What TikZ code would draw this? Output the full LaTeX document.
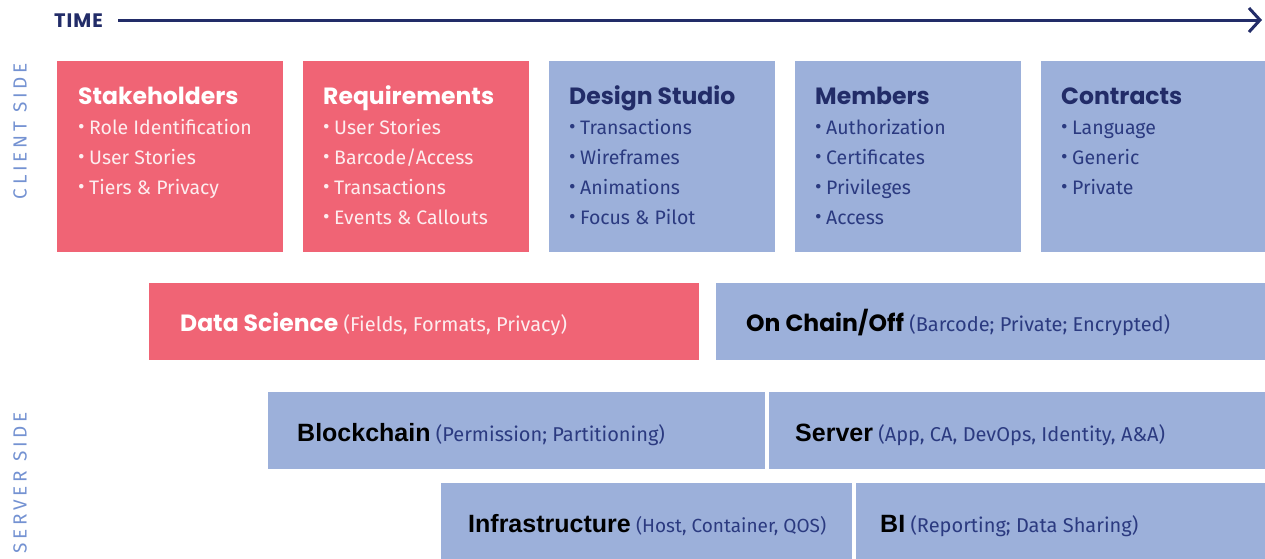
\documentclass[tikz,border=0pt]{standalone}
\usepackage{fontspec}
\setmainfont{Fira Sans}
\newfontfamily\geofont{Poppins}
\newfontfamily\grofont{Liberation Sans}
\newfontfamily\sidefont[LetterSpace=20]{Fira Sans}
\newfontfamily\timefont[LetterSpace=5]{Poppins}
\usetikzlibrary{arrows.meta}
\definecolor{pinkbox}{HTML}{F06475}
\definecolor{bluebox}{HTML}{9CB0DA}
\definecolor{navy}{HTML}{222C68}
\definecolor{navytext}{HTML}{2B3A80}
\definecolor{sideblue}{HTML}{7492D2}
\definecolor{pinktext}{HTML}{FDEDEF}
\newcommand\bul{\makebox[11pt][l]{\raisebox{0.5pt}{\fontsize{20pt}{20pt}\selectfont\textbullet}}}
\begin{document}
\begin{tikzpicture}[x=1pt,y=-1pt,
  box/.style={anchor=north west, inner sep=0pt, outer sep=0pt, draw=none},
  pbox/.style={box, fill=pinkbox},
  bbox/.style={box, fill=bluebox},
  ttl/.style={anchor=base west, inner sep=0pt, font={\geofont\bfseries\fontsize{23.5pt}{23.5pt}\selectfont}},
  itm/.style={anchor=base west, inner sep=0pt, font={\fontsize{19.5pt}{19.5pt}\selectfont}},
  rowtxt/.style={anchor=base west, inner sep=0pt, font={\fontsize{20pt}{20pt}\selectfont}},
  side/.style={rotate=90, inner sep=0pt, text=sideblue, font={\sidefont\fontsize{19pt}{19pt}\selectfont}}
]
\useasboundingbox (0,0) rectangle (1265,558);

% time axis
\node[anchor=base west, inner sep=0pt, text=navy, font={\timefont\bfseries\fontsize{19.5pt}{19.5pt}\selectfont}] (time) at (54,27) {TIME};
\coordinate (timeE) at (1262,20);
\coordinate (timeS) at (118,20);
\draw[navy, line width=3pt, -{Straight Barb[length=11pt, width=24pt, line width=3pt]}] (timeS) -- (timeE);

% side labels
\node[side] (client) at (20,131) {CLIENT SIDE};
\node[side] (server) at (20,483) {SERVER SIDE};

% top row
\node[pbox, minimum width=226pt, minimum height=191pt] (stake) at (57,61) {};
\node[ttl, text=white] (stakeT) at ([xshift=21pt,yshift=-43pt]stake.north west) {Stakeholders};
\node[itm, text=pinktext] (stake1) at ([yshift=-30pt]stakeT.base west) {\bul Role Identification};
\node[itm, text=pinktext] (stake2) at ([yshift=-30pt]stake1.base west) {\bul User Stories};
\node[itm, text=pinktext] (stake3) at ([yshift=-30pt]stake2.base west) {\bul Tiers \& Privacy};

\node[pbox, minimum width=226pt, minimum height=191pt] (req) at (303,61) {};
\node[ttl, text=white] (reqT) at ([xshift=20pt,yshift=-43pt]req.north west) {Requirements};
\node[itm, text=pinktext] (req1) at ([yshift=-30pt]reqT.base west) {\bul User Stories};
\node[itm, text=pinktext] (req2) at ([yshift=-30pt]req1.base west) {\bul Barcode/Access};
\node[itm, text=pinktext] (req3) at ([yshift=-30pt]req2.base west) {\bul Transactions};
\node[itm, text=pinktext] (req4) at ([yshift=-30pt]req3.base west) {\bul Events \& Callouts};

\node[bbox, minimum width=226pt, minimum height=191pt] (des) at (549,61) {};
\node[ttl, text=navy] (desT) at ([xshift=20pt,yshift=-43pt]des.north west) {Design Studio};
\node[itm, text=navytext] (des1) at ([yshift=-30pt]desT.base west) {\bul Transactions};
\node[itm, text=navytext] (des2) at ([yshift=-30pt]des1.base west) {\bul Wireframes};
\node[itm, text=navytext] (des3) at ([yshift=-30pt]des2.base west) {\bul Animations};
\node[itm, text=navytext] (des4) at ([yshift=-30pt]des3.base west) {\bul Focus \& Pilot};

\node[bbox, minimum width=226pt, minimum height=191pt] (mem) at (795,61) {};
\node[ttl, text=navy] (memT) at ([xshift=20pt,yshift=-43pt]mem.north west) {Members};
\node[itm, text=navytext] (mem1) at ([yshift=-30pt]memT.base west) {\bul Authorization};
\node[itm, text=navytext] (mem2) at ([yshift=-30pt]mem1.base west) {\bul Certificates};
\node[itm, text=navytext] (mem3) at ([yshift=-30pt]mem2.base west) {\bul Privileges};
\node[itm, text=navytext] (mem4) at ([yshift=-30pt]mem3.base west) {\bul Access};

\node[bbox, minimum width=224pt, minimum height=191pt] (con) at (1041,61) {};
\node[ttl, text=navy] (conT) at ([xshift=20pt,yshift=-43pt]con.north west) {Contracts};
\node[itm, text=navytext] (con1) at ([yshift=-30pt]conT.base west) {\bul Language};
\node[itm, text=navytext] (con2) at ([yshift=-30pt]con1.base west) {\bul Generic};
\node[itm, text=navytext] (con3) at ([yshift=-30pt]con2.base west) {\bul Private};

% second row
\node[pbox, minimum width=550pt, minimum height=77pt] (ds) at (149,283) {};
\node[rowtxt, text=pinktext] (dsT) at ([xshift=31pt,yshift=-10pt]ds.west) {{\geofont\bfseries\fontsize{23.5pt}{23.5pt}\selectfont\color{white}Data Science} (Fields, Formats, Privacy)};

\node[bbox, minimum width=549pt, minimum height=77pt] (onc) at (716,283) {};
\node[rowtxt, text=navytext] (oncT) at ([xshift=30pt,yshift=-10pt]onc.west) {{\geofont\bfseries\fontsize{23.5pt}{23.5pt}\selectfont\color{black}On Chain/Off} (Barcode; Private; Encrypted)};

% third row
\node[bbox, minimum width=497pt, minimum height=77pt] (bc) at (268,392) {};
\node[rowtxt, text=navytext] (bcT) at ([xshift=29pt,yshift=-11pt]bc.west) {{\grofont\bfseries\fontsize{25pt}{25pt}\selectfont\color{black}Blockchain} (Permission; Partitioning)};

\node[bbox, minimum width=496pt, minimum height=77pt] (srv) at (769,392) {};
\node[rowtxt, text=navytext] (srvT) at ([xshift=26pt,yshift=-11pt]srv.west) {{\grofont\bfseries\fontsize{25pt}{25pt}\selectfont\color{black}Server} (App, CA, DevOps, Identity, A\&A)};

% fourth row
\node[bbox, minimum width=411pt, minimum height=77pt] (inf) at (441,483) {};
\node[rowtxt, text=navytext] (infT) at ([xshift=27pt,yshift=-11pt]inf.west) {{\grofont\bfseries\fontsize{25pt}{25pt}\selectfont\color{black}Infrastructure} {\fontsize{19pt}{19pt}\selectfont(Host, Container, QOS)}};

\node[bbox, minimum width=409pt, minimum height=77pt] (bi) at (856,483) {};
\node[rowtxt, text=navytext] (biT) at ([xshift=24pt,yshift=-11pt]bi.west) {{\grofont\bfseries\fontsize{25pt}{25pt}\selectfont\color{black}BI} (Reporting; Data Sharing)};
\end{tikzpicture}
\end{document}
